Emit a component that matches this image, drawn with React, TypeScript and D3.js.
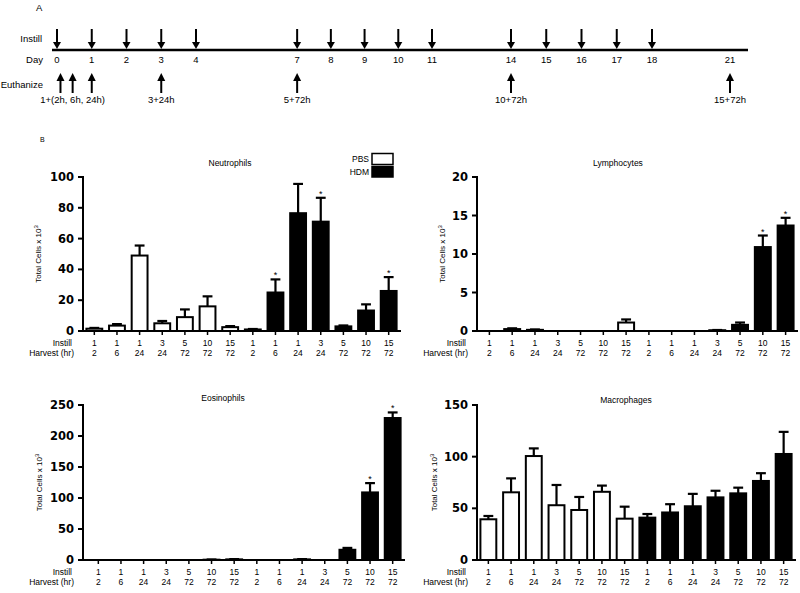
import React from 'react';
import * as d3 from 'd3';

// ---- data ----
const instill = [1, 1, 1, 3, 5, 10, 15, 1, 1, 1, 3, 5, 10, 15];
const harvest = [2, 6, 24, 24, 72, 72, 72, 2, 6, 24, 24, 72, 72, 72];
const treatment = ['PBS', 'PBS', 'PBS', 'PBS', 'PBS', 'PBS', 'PBS', 'HDM', 'HDM', 'HDM', 'HDM', 'HDM', 'HDM', 'HDM'];

const neutroMean = [1.5, 3.5, 49, 5, 9, 16, 2.5, 1, 25, 76.5, 71, 3, 13.3, 26];
const neutroSem = [0.5, 1, 6.5, 1.5, 5, 6.5, 0.7, 0.3, 8.5, 19, 15.5, 0.6, 4, 9];
const neutroStars = [8, 10, 13];

const lymphMean = [0, 0.25, 0.15, 0, 0, 0, 1.1, 0, 0, 0, 0.1, 0.8, 10.9, 13.7];
const lymphSem = [0, 0.1, 0.05, 0, 0, 0, 0.4, 0, 0, 0, 0.03, 0.3, 1.5, 1.0];
const lymphStars = [12, 13];

const eosMean = [0, 0, 0, 0, 0, 0.5, 1, 0, 0, 1, 0, 16.5, 109, 229];
const eosSem = [0, 0, 0, 0, 0, 0.3, 0.5, 0, 0, 0.5, 0, 3, 15, 9];
const eosStars = [12, 13];

const macroMean = [39.4, 65.5, 100.6, 53, 48.4, 66, 40, 41, 46, 52, 60.6, 64.5, 76.5, 102.6];
const macroSem = [3.2, 13.5, 7.4, 19.6, 12.6, 6, 11.6, 3.5, 8, 12, 6.4, 5.5, 7.5, 21.4];
const macroStars: number[] = [];

// timeline
const instillDays = [0, 1, 2, 3, 4, 7, 8, 9, 10, 11, 14, 15, 16, 17, 18];
const dayLabels = [0, 1, 2, 3, 4, 7, 8, 9, 10, 11, 14, 15, 16, 17, 18, 21];
const euthanizeDays = [0.1, 0.45, 1, 3, 7, 14, 21];
const euthanizeLabels = ['1+(2h, 6h, 24h)', '3+24h', '5+72h', '10+72h', '15+72h'];
const euthanizeLabelDays = [0.45, 3, 7, 14, 21];

const FONT = '"Liberation Sans", Arial, sans-serif';
const TICKFONT = '"DejaVu Sans", sans-serif';

type PanelProps = {
  title: string;
  mean: number[];
  sem: number[];
  stars: number[];
  max: number;
  ticks: number[];
  axisX: number;
  band: [number, number];
  yTop: number;
  yBottom: number;
  titleX: number;
  titleY: number;
  labelX: number;
  legend?: boolean;
};

const Panel = ({ title, mean, sem, stars, max, ticks, axisX, band, yTop, yBottom, titleX, titleY, labelX, legend }: PanelProps) => {
  const idx = d3.range(mean.length).map(String);
  const x = d3.scaleBand().domain(idx).range(band).paddingInner(0.3).paddingOuter(0.15);
  const y = d3.scaleLinear().domain([0, max]).range([yBottom, yTop]);
  const bw = x.bandwidth();
  const cap = bw * 0.62;
  const midY = (yTop + yBottom) / 2;

  return (
    <g>
      <text x={titleX} y={titleY + 3} textAnchor="middle" fontSize={8.5} fontFamily={FONT}>{title}</text>
      <text transform={`translate(${labelX},${midY}) rotate(-90)`} textAnchor="middle" fontSize={8} fontFamily={FONT}>
        Total Cells x 10<tspan dy={-3} fontSize={6}>3</tspan>
      </text>

      {/* bars */}
      {mean.map((m, i) => {
        if (m <= 0) return null;
        const x0 = x(String(i))!;
        const cx = x0 + bw / 2;
        const top = y(m);
        const errTop = y(m + sem[i]);
        return (
          <g key={i}>
            <line x1={cx} x2={cx} y1={top} y2={errTop} stroke="black" strokeWidth={2.2} />
            <line x1={cx - cap / 2} x2={cx + cap / 2} y1={errTop} y2={errTop} stroke="black" strokeWidth={2.2} />
            <rect x={x0} y={top} width={bw} height={yBottom - top}
              fill={treatment[i] === 'PBS' ? 'white' : 'black'} stroke="black" strokeWidth={2} />
          </g>
        );
      })}
      {stars.map(i => {
        const cx = x(String(i))! + bw / 2;
        return (
          <text key={'s' + i} x={cx} y={y(mean[i] + sem[i]) - 1} textAnchor="middle" fontSize={9} fontFamily={FONT} fill="black">*</text>
        );
      })}

      {/* y axis */}
      <line x1={axisX} x2={axisX} y1={yTop - 1} y2={yBottom + 1} stroke="black" strokeWidth={2} />
      {ticks.map(t => (
        <g key={t}>
          <line x1={axisX - 5} x2={axisX} y1={y(t)} y2={y(t)} stroke="black" strokeWidth={2} />
          <text x={axisX - 9} y={y(t) + 4} textAnchor="end" fontSize={11.5} fontWeight="bold" fontFamily={TICKFONT}>{t}</text>
        </g>
      ))}

      {/* x axis */}
      <line x1={axisX - 1} x2={band[1] + 1} y1={yBottom} y2={yBottom} stroke="black" strokeWidth={2} />
      {idx.map((k, i) => {
        const cx = x(k)! + bw / 2;
        return (
          <g key={k}>
            <line x1={cx} x2={cx} y1={yBottom} y2={yBottom + 4} stroke="black" strokeWidth={1.5} />
            <text x={cx} y={yBottom + 14.5} textAnchor="middle" fontSize={8.5} fontFamily={FONT}>{instill[i]}</text>
            <text x={cx} y={yBottom + 25} textAnchor="middle" fontSize={8.5} fontFamily={FONT}>{harvest[i]}</text>
          </g>
        );
      })}
      <text x={axisX - 11} y={yBottom + 14.5} textAnchor="end" fontSize={8.5} fontFamily={FONT}>Instill</text>
      <text x={axisX - 9} y={yBottom + 25} textAnchor="end" fontSize={8.5} fontFamily={FONT}>Harvest (hr)</text>

      {legend && (
        <g fontFamily={FONT} fontSize={8.5}>
          <text x={369} y={162} textAnchor="end">PBS</text>
          <rect x={372} y={153.5} width={21} height={11} fill="white" stroke="black" strokeWidth={1.5} />
          <text x={369} y={175} textAnchor="end">HDM</text>
          <rect x={372} y={166.5} width={21} height={10.5} fill="black" stroke="black" strokeWidth={1.5} />
        </g>
      )}
    </g>
  );
};

const Timeline = () => {
  const day = d3.scaleLinear().domain([0, 4, 11, 14, 18, 21]).range([57, 196, 432, 511, 652, 730]);
  const lineY = 50;
  return (
    <g fontFamily={FONT} fontSize={9.5}>
      <text x={36} y={11}>A</text>
      <text x={42} y={42} textAnchor="end">Instill</text>
      <text x={43} y={63} textAnchor="end">Day</text>
      <text x={43} y={88} textAnchor="end">Euthanize</text>
      <line x1={52} x2={748} y1={lineY} y2={lineY} stroke="black" strokeWidth={2.5} />
      {instillDays.map(d => {
        const cx = day(d);
        return (
          <g key={d}>
            <line x1={cx} x2={cx} y1={29} y2={44} stroke="black" strokeWidth={2} />
            <path d={`M${cx - 4},42L${cx + 4},42L${cx},${lineY - 1}Z`} fill="black" />
          </g>
        );
      })}
      {dayLabels.map(d => (
        <text key={d} x={day(d)} y={63} textAnchor="middle">{d}</text>
      ))}
      {euthanizeDays.map(d => {
        const cx = day(d);
        return (
          <g key={d}>
            <line x1={cx} x2={cx} y1={79} y2={93} stroke="black" strokeWidth={2} />
            <path d={`M${cx - 4},81L${cx + 4},81L${cx},73Z`} fill="black" />
          </g>
        );
      })}
      {euthanizeLabels.map((l, i) => (
        <text key={l} x={day(euthanizeLabelDays[i])} y={103} textAnchor="middle">{l}</text>
      ))}
    </g>
  );
};

export default function App() {
  return (
    <svg width={800} height={593} style={{ position: 'absolute', left: 0, top: 0, background: 'white' }}>
      <rect width={800} height={593} fill="white" />
      <Timeline />
      <text x={40} y={142} fontSize={7} fontFamily={FONT}>B</text>
      <Panel title="Neutrophils" mean={neutroMean} sem={neutroSem} stars={neutroStars} max={100}
        ticks={[0, 20, 40, 60, 80, 100]} axisX={83} band={[83, 400]} yTop={177} yBottom={331}
        titleX={230} titleY={163} labelX={41} legend />
      <Panel title="Lymphocytes" mean={lymphMean} sem={lymphSem} stars={lymphStars} max={20}
        ticks={[0, 5, 10, 15, 20]} axisX={477} band={[478, 797]} yTop={177} yBottom={331}
        titleX={618} titleY={163} labelX={445} />
      <Panel title="Eosinophils" mean={eosMean} sem={eosSem} stars={eosStars} max={250}
        ticks={[0, 50, 100, 150, 200, 250]} axisX={83} band={[87, 404]} yTop={405} yBottom={560}
        titleX={223} titleY={398} labelX={42} />
      <Panel title="Macrophages" mean={macroMean} sem={macroSem} stars={macroStars} max={150}
        ticks={[0, 50, 100, 150]} axisX={477} band={[477, 795]} yTop={405} yBottom={560}
        titleX={626} titleY={400} labelX={437} />
    </svg>
  );
}
